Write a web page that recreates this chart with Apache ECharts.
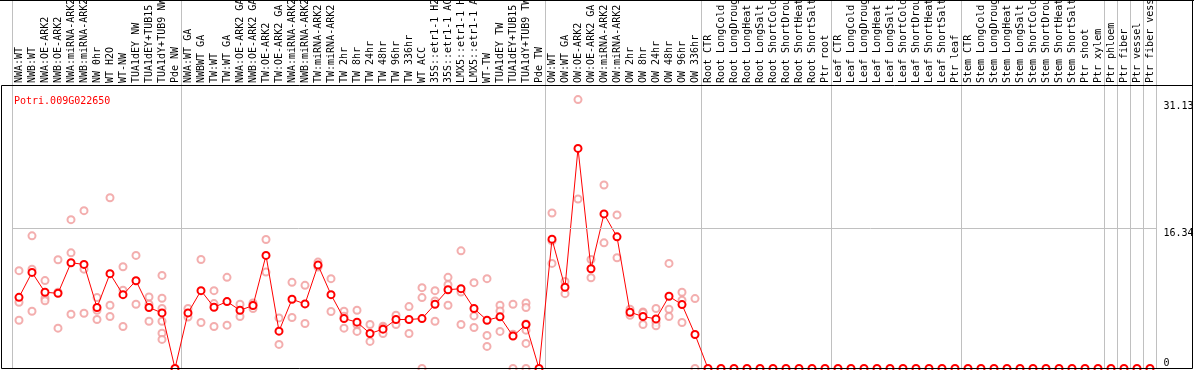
<!DOCTYPE html>
<html><head><meta charset="utf-8">
<script src="https://cdn.jsdelivr.net/npm/echarts@6/dist/echarts.min.js"></script>
<style>html,body{margin:0;padding:0;background:#fff}#c{width:1194px;height:370px}</style>
</head><body><div id="c"></div>
<script>
const geneId = 'Potri.009G022650';

const categories = [
  'NWA:WT','NWB:WT','NWA:OE-ARK2','NWB:OE-ARK2','NWA:miRNA-ARK2','NWB:miRNA-ARK2','NW 0hr','WT H2O','WT-NW','TUA1dEY NW','TUA1dEY+TUB15 NW','TUA1dY+TUB9 NW','Pde NW',
  'NWA:WT GA','NWBWT GA','TW:WT','TW:WT GA','NWA:OE-ARK2 GA','NWB:OE-ARK2 GA','TW:OE-ARK2','TW:OE-ARK2 GA','NWA:miRNA-ARK2 GA','NWB:miRNA-ARK2 GA','TW:miRNA-ARK2','TW:miRNA-ARK2 GA',
  'TW 2hr','TW 8hr','TW 24hr','TW 48hr','TW 96hr','TW 336hr','WT ACC','35S::etr1-1 H2O','35S::etr1-1 ACC','LMX5::etr1-1 H2O','LMX5::etr1-1 ACC','WT-TW','TUA1dEY TW','TUA1dEY+TUB15 TW','TUA1dY+TUB9 TW','Pde TW',
  'OW:WT','OW:WT GA','OW:OE-ARK2','OW:OE-ARK2 GA','OW:miRNA-ARK2','OW:miRNA-ARK2 GA','OW 2hr','OW 8hr','OW 24hr','OW 48hr','OW 96hr','OW 336hr',
  'Root CTR','Root LongCold','Root LongDrought','Root LongHeat','Root LongSalt','Root ShortCold','Root ShortDrought','Root ShortHeat','Root ShortSalt','Ptr root',
  'Leaf CTR','Leaf LongCold','Leaf LongDrought','Leaf LongHeat','Leaf LongSalt','Leaf ShortCold','Leaf ShortDrought','Leaf ShortHeat','Leaf ShortSalt','Ptr leaf',
  'Stem CTR','Stem LongCold','Stem LongDrought','Stem LongHeat','Stem LongSalt','Stem ShortCold','Stem ShortDrought','Stem ShortHeat','Stem ShortSalt','Ptr shoot',
  'Ptr xylem','Ptr phloem','Ptr fiber','Ptr vessel','Ptr fiber vessel'
];

const meanValues = [
  8.31, 11.22, 8.9, 8.78, 12.35, 12.15, 7.12, 11.07, 8.62, 10.25, 7.12, 6.49, 0,
  6.49, 9.09, 7.15, 7.81, 6.8, 7.35, 13.2, 4.36, 8.08, 7.54, 12.07, 8.62,
  5.83, 5.41, 4.09, 4.59, 5.72, 5.72, 5.83, 7.5, 9.2, 9.32, 7.0, 5.64, 6.03, 3.78, 5.14, 0,
  15.1, 9.48, 25.7, 11.65, 18.05, 15.37, 6.57, 6.07, 5.79, 8.43, 7.46, 3.97,
  0, 0, 0, 0, 0, 0, 0, 0, 0, 0,
  0, 0, 0, 0, 0, 0, 0, 0, 0, 0,
  0, 0, 0, 0, 0, 0, 0, 0, 0, 0,
  0, 0, 0, 0, 0
];

const replicates = [
  [11.42, 7.73, 5.64], [15.49, 11.6, 6.69], [10.26, 8.2, 7.9], [12.7, 8.9, 4.71], [17.38, 13.5, 6.34],
  [18.43, 11.6, 6.45], [8.28, 6.8, 5.72], [19.94, 7.38, 6.07], [11.88, 9.13, 4.9], [13.2, 7.5],
  [8.35, 7.5, 5.52], [10.87, 8.2, 7.0, 5.52, 4.13, 3.4], [],
  [7.0, 6.0], [12.73, 5.37], [9.09, 7.58, 4.9], [10.64, 5.06], [7.5, 6.07], [7.65, 7.4, 7.0],
  [15.06, 11.26], [5.91, 2.81], [10.06, 5.95], [9.71, 5.26], [12.42, 12.0, 11.84], [10.49, 6.65],
  [6.69, 6.1, 4.71], [6.8, 5.1, 4.33], [5.14, 3.16], [4.94, 4.75, 4.09], [6.22, 5.14], [7.23, 4.09],
  [9.44, 8.28, 0], [9.09, 7.88, 5.52], [10.64, 9.79, 7.38], [13.74, 8.93, 5.14], [10.02, 6.14, 4.79],
  [10.49, 3.86, 2.58], [7.38, 6.72, 4.33], [7.5, 4.0, 0], [7.65, 7.12, 5.2, 4.48, 2.93, 0], [],
  [18.16, 14.9, 12.27], [10.17, 8.74], [31.4, 19.79], [12.73, 10.6], [21.42, 14.67], [17.93, 12.93],
  [6.92, 6.22], [6.6, 6.5, 5.14], [7.0, 5.37, 4.98], [12.27, 6.92, 6.07], [8.9, 7.97, 5.37], [8.16, 0]
];

const yTickValues = [0, 16.34, 31.13];
const yTickLabels = ['0', '16.34', '31.13'];
const yMax = 33.1;
// category indices where a group separator line is drawn (band boundaries)
const groupBoundaries = [0, 13, 41, 53, 63, 73, 84, 85, 86, 87, 88];

const replicatePoints = [];
replicates.forEach((arr, i) => arr.forEach(v => replicatePoints.push([i, v])));

const MONO = 'DejaVu Sans Mono';
const near = (a, b) => Math.abs(a - b) < 1e-6;

const chart = echarts.init(document.getElementById('c'), null, {renderer: 'canvas'});
const sepLine = {
  show: true,
  interval: (idx) => groupBoundaries.indexOf(idx) >= 0,
  lineStyle: {color: '#c0c0c0', width: 1}
};
function labelAxis(tickIdx, align) {
  return {
    type: 'value', gridIndex: 0, position: 'right', min: 0, max: yMax,
    interval: yTickValues[tickIdx] || yMax,
    axisLine: {show: false}, axisTick: {show: false}, splitLine: {show: false},
    axisLabel: {
      margin: 7, fontFamily: MONO, fontSize: 10, color: '#000', verticalAlign: align,
      showMinLabel: true, showMaxLabel: true,
      formatter: v => near(v, yTickValues[tickIdx]) ? yTickLabels[tickIdx] : ''
    }
  };
}
chart.setOption({
  animation: false,
  backgroundColor: '#fff',
  title: {
    text: geneId, left: 9, top: 91,
    textStyle: {color: '#ff0000', fontSize: 10, fontFamily: MONO, fontWeight: 'normal'}
  },
  grid: [
    {left: 12.5, width: 1144, top: 85, height: 283.5, containLabel: false, outerBoundsMode: 'none'},
    {left: 12.5, width: 1144, top: 0, height: 85, containLabel: false, outerBoundsMode: 'none'}
  ],
  xAxis: [
    {
      type: 'category', gridIndex: 0, position: 'top', data: categories, boundaryGap: true,
      axisLine: {show: false}, axisTick: {show: false},
      axisLabel: {interval: 0, rotate: 90, margin: 2, fontFamily: MONO, fontSize: 10, color: '#000'},
      splitLine: sepLine
    },
    {
      type: 'category', gridIndex: 1, data: categories, boundaryGap: true,
      axisLine: {show: false}, axisTick: {show: false}, axisLabel: {show: false},
      splitLine: sepLine
    }
  ],
  yAxis: [
    labelAxis(1, 'top'),
    labelAxis(2, 'top'),
    labelAxis(0, 'bottom'),
    {type: 'value', gridIndex: 1, show: false, min: 0, max: 1}
  ],
  graphic: [
    {type: 'rect', silent: true, z: 100, shape: {x: 1.5, y: 85.5, width: 1191, height: 283}, style: {fill: null, stroke: '#000', lineWidth: 1}},
    {type: 'line', silent: true, z: 100, shape: {x1: 0, y1: 0.5, x2: 1194, y2: 0.5}, style: {stroke: '#000', lineWidth: 1}},
    {type: 'line', silent: true, z: 100, shape: {x1: 1192.5, y1: 0, x2: 1192.5, y2: 86}, style: {stroke: '#000', lineWidth: 1}}
  ],
  series: [
    {
      type: 'scatter', xAxisIndex: 0, yAxisIndex: 0, data: replicatePoints,
      symbol: 'emptyCircle', symbolSize: 7,
      itemStyle: {color: '#f09a9a', borderColor: '#f09a9a', borderWidth: 1.2},
      z: 2, silent: true
    },
    {
      type: 'line', xAxisIndex: 0, yAxisIndex: 0, data: meanValues,
      symbol: 'emptyCircle', symbolSize: 7, showAllSymbol: true,
      lineStyle: {color: '#ff0000', width: 1},
      itemStyle: {color: '#ff0000', borderColor: '#ff0000', borderWidth: 1.5},
      z: 3, silent: true,
      markLine: {
        silent: true, symbol: 'none', label: {show: false},
        lineStyle: {color: '#c0c0c0', type: 'solid', width: 1},
        data: [{yAxis: yTickValues[1]}]
      }
    }
  ]
});
</script>
</body></html>
